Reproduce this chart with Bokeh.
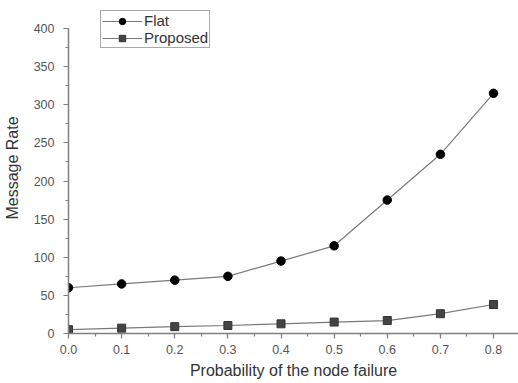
from bokeh.plotting import figure
from bokeh.models import FixedTicker, Range1d, Legend, LegendItem
from bokeh.embed import file_html
from bokeh.resources import INLINE

prob = [0.0, 0.1, 0.2, 0.3, 0.4, 0.5, 0.6, 0.7, 0.8]
flat = [60, 65, 70, 75, 95, 115, 175, 235, 315]
proposed = [5, 7, 9, 10.5, 12.7, 15, 17, 26, 38]
x_ticks = [0.0, 0.1, 0.2, 0.3, 0.4, 0.5, 0.6, 0.7, 0.8]
y_ticks = [0, 50, 100, 150, 200, 250, 300, 350, 400]

FONT = "Liberation Sans"

p = figure(width=518, height=383, output_backend="svg", toolbar_location=None,
           x_range=Range1d(0, 0.847), y_range=Range1d(0, 434.1),
           min_border_left=68, min_border_right=0, min_border_top=2, min_border_bottom=50)
p.outline_line_color = None
p.xgrid.visible = False
p.ygrid.visible = False
p.background_fill_color = "white"
p.border_fill_color = "white"

for ax in (p.xaxis[0], p.yaxis[0]):
    ax.axis_line_color = "#808080"
    ax.axis_line_width = 1.5
    ax.major_tick_line_color = "#808080"
    ax.minor_tick_line_color = "#808080"
    ax.major_tick_line_width = 1.2
    ax.minor_tick_line_width = 1.2
    ax.major_tick_out = 5
    ax.major_tick_in = 0
    ax.minor_tick_out = 3
    ax.minor_tick_in = 0
    ax.major_label_text_font = FONT
    ax.major_label_text_font_size = "12.5px"
    ax.major_label_text_color = "#555555"
    ax.axis_label_text_font = FONT
    ax.axis_label_text_font_size = "16px"
    ax.axis_label_text_font_style = "normal"
    ax.axis_label_text_color = "#333333"

p.yaxis.bounds = (0, 400)
p.xaxis.ticker = FixedTicker(ticks=x_ticks, minor_ticks=[i * 0.05 for i in range(18)])
p.yaxis.ticker = FixedTicker(ticks=y_ticks, minor_ticks=[i * 25 for i in range(17)])
p.xaxis.major_label_overrides = {t: f"{t:.1f}" for t in x_ticks}
p.xaxis.axis_label = "Probability of the node failure"
p.yaxis.axis_label = "Message Rate"
p.xaxis.major_label_standoff = 6
p.xaxis.axis_label_standoff = 5
p.yaxis.major_label_standoff = 9
p.yaxis.axis_label_standoff = 10

l1 = p.line(prob, flat, line_color="#7a7a7a", line_width=1.2)
s1 = p.scatter(prob, flat, marker="circle", size=8.5, fill_color="black", line_color="black")
l2 = p.line(prob, proposed, line_color="#7a7a7a", line_width=1.2)
s2 = p.scatter(prob, proposed, marker="square", size=8, fill_color="#444444", line_color="#333333")

legend = Legend(items=[LegendItem(label="Flat", renderers=[l1, s1]),
                       LegendItem(label="Proposed", renderers=[l2, s2])],
                location=(32, 285), orientation="vertical",
                padding=1, margin=0, spacing=0,
                glyph_width=40, glyph_height=16, label_height=16, label_standoff=2,
                label_text_font=FONT, label_text_font_size="15px", label_text_color="#333333",
                border_line_color="#555555", border_line_width=1.5,
                background_fill_color="white", background_fill_alpha=1.0)
p.add_layout(legend, "center")

open("out.html", "w").write(file_html(p, INLINE))
